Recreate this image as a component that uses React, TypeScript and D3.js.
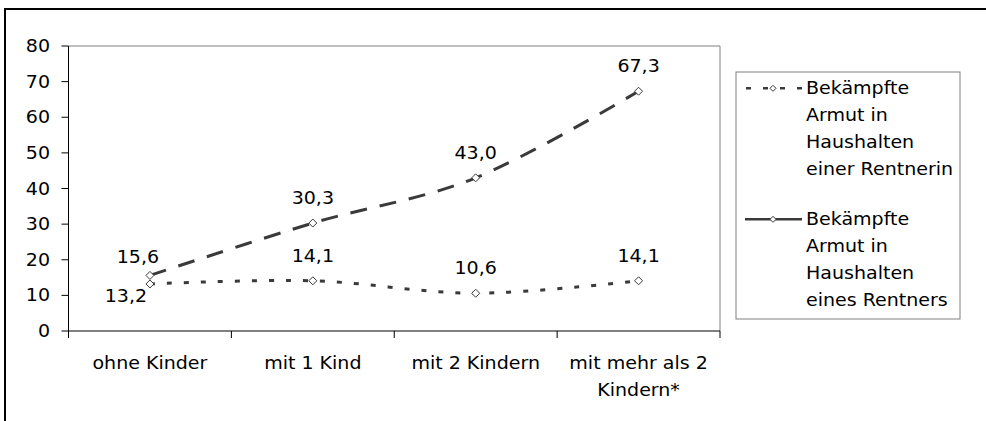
import React from "react";
import * as d3 from "d3";

const categories = ["ohne Kinder", "mit 1 Kind", "mit 2 Kindern", "mit mehr als 2\nKindern*"];
const rentnerinValues = [13.2, 14.1, 10.6, 14.1];
const rentnerValues = [15.6, 30.3, 43.0, 67.3];
const yTicks = [0, 10, 20, 30, 40, 50, 60, 70, 80];
const rentnerinLabelPos = ["belowLeft", "above", "above", "above"];
const rentnerLabelPos = ["aboveLeft", "above", "above", "above"];
const legendRentnerin = ["Bekämpfte", "Armut in", "Haushalten", "einer Rentnerin"];
const legendRentner = ["Bekämpfte", "Armut in", "Haushalten", "eines Rentners"];

const W = 986;
const H = 421;
const SX = 1.12;
const FONT = "'DejaVu Sans', Verdana, sans-serif";
const LINE = "#3a3a3a";

const T = ({ x, y, anchor = "middle", size = 17, children }: any) => (
  <text
    transform={`translate(${x},${y}) scale(${SX},1)`}
    textAnchor={anchor}
    dominantBaseline="central"
    fontFamily={FONT}
    fontSize={size}
    fill="#000"
  >
    {children}
  </text>
);

const Diamond = ({ cx, cy, r = 4 }: any) => (
  <path
    d={`M${cx},${cy - r}L${cx + r},${cy}L${cx},${cy + r}L${cx - r},${cy}Z`}
    fill="#fff"
    stroke={LINE}
    strokeWidth={1}
  />
);

const fmt = (v: number) => d3.format(".1f")(v).replace(".", ",");

export default function App() {
  const left = 68.5;
  const right = 720;
  const top = 46;
  const bottom = 331;

  const x = d3.scaleBand<string>().domain(categories).range([left, right]).padding(0);
  const bw = x.bandwidth();
  const cx = (c: string) => (x(c) as number) + bw / 2;
  const y = d3.scaleLinear().domain([0, 80]).range([bottom, top]);

  const line = d3
    .line<number>()
    .x((_, i) => cx(categories[i]))
    .y((v) => y(v))
    .curve(d3.curveCardinal.tension(0));

  const labelOffset = (pos: string) => {
    if (pos === "aboveLeft") return [-12, -19];
    if (pos === "belowLeft") return [-24, 12];
    return [0, -25];
  };

  const series = [
    { values: rentnerinValues, dash: "5,12", labels: rentnerinLabelPos },
    { values: rentnerValues, dash: "17,13", labels: rentnerLabelPos },
  ];

  const tickXs = categories.map((c) => x(c) as number).concat([right]);

  const legendX = 736;
  const legendY = 72;
  const legendW = 224;
  const legendH = 247;
  const lineH = 26.7;
  const entry1Y = 88.3;
  const entry2Y = 219.3;

  return (
    <svg
      width={W}
      height={H}
      style={{ position: "absolute", left: 0, top: 0, background: "#fff" }}
    >
      <rect x={0} y={0} width={W} height={H} fill="#fff" />
      {/* outer chart frame (extends beyond view) */}
      <rect x={5} y={9} width={1200} height={800} fill="none" stroke="#000" strokeWidth={2} />

      {/* plot area border (gray) */}
      <line x1={left} x2={right} y1={top} y2={top} stroke="#808080" strokeWidth={1} />
      <line x1={right} x2={right} y1={top} y2={bottom} stroke="#808080" strokeWidth={1} />

      {/* y axis */}
      <line x1={left} x2={left} y1={top} y2={bottom} stroke="#000" strokeWidth={1} />
      {yTicks.map((t) => (
        <g key={t}>
          <line x1={left - 7} x2={left} y1={y(t)} y2={y(t)} stroke="#000" strokeWidth={1} />
          <T x={50} y={y(t)} anchor="end">
            {String(t)}
          </T>
        </g>
      ))}

      {/* x axis */}
      <line x1={left} x2={right} y1={bottom} y2={bottom} stroke="#000" strokeWidth={1} />
      {tickXs.map((tx, i) => (
        <line key={i} x1={tx} x2={tx} y1={bottom} y2={bottom + 7} stroke="#000" strokeWidth={1} />
      ))}
      {categories.map((c) =>
        c.split("\n").map((ln, j) => (
          <T key={c + j} x={cx(c)} y={363 + j * 27}>
            {ln}
          </T>
        ))
      )}

      {/* series lines */}
      {series.map((s, si) => (
        <path
          key={si}
          d={line(s.values) || ""}
          fill="none"
          stroke={LINE}
          strokeWidth={3}
          strokeDasharray={s.dash}
        />
      ))}
      {series.map((s, si) =>
        s.values.map((v, i) => (
          <Diamond key={si + "-" + i} cx={cx(categories[i])} cy={y(v)} />
        ))
      )}
      {series.map((s, si) =>
        s.values.map((v, i) => {
          const [dx, dy] = labelOffset(s.labels[i]);
          return (
            <T key={"l" + si + "-" + i} x={cx(categories[i]) + dx} y={y(v) + dy}>
              {fmt(v)}
            </T>
          );
        })
      )}

      {/* legend */}
      <rect
        x={legendX}
        y={legendY}
        width={legendW}
        height={legendH}
        fill="#fff"
        stroke="#808080"
        strokeWidth={1}
      />
      <line x1={746} x2={802} y1={entry1Y} y2={entry1Y} stroke={LINE} strokeWidth={2.5} strokeDasharray="5,12" />
      <Diamond cx={773} cy={entry1Y} r={3} />
      <line x1={745} x2={802} y1={entry2Y} y2={entry2Y} stroke={LINE} strokeWidth={2.5} />
      <Diamond cx={773} cy={entry2Y} r={3} />
      {legendRentnerin.map((t, i) => (
        <T key={"a" + i} x={806} y={entry1Y + i * lineH} anchor="start">
          {t}
        </T>
      ))}
      {legendRentner.map((t, i) => (
        <T key={"b" + i} x={806} y={entry2Y + i * lineH} anchor="start">
          {t}
        </T>
      ))}
    </svg>
  );
}
